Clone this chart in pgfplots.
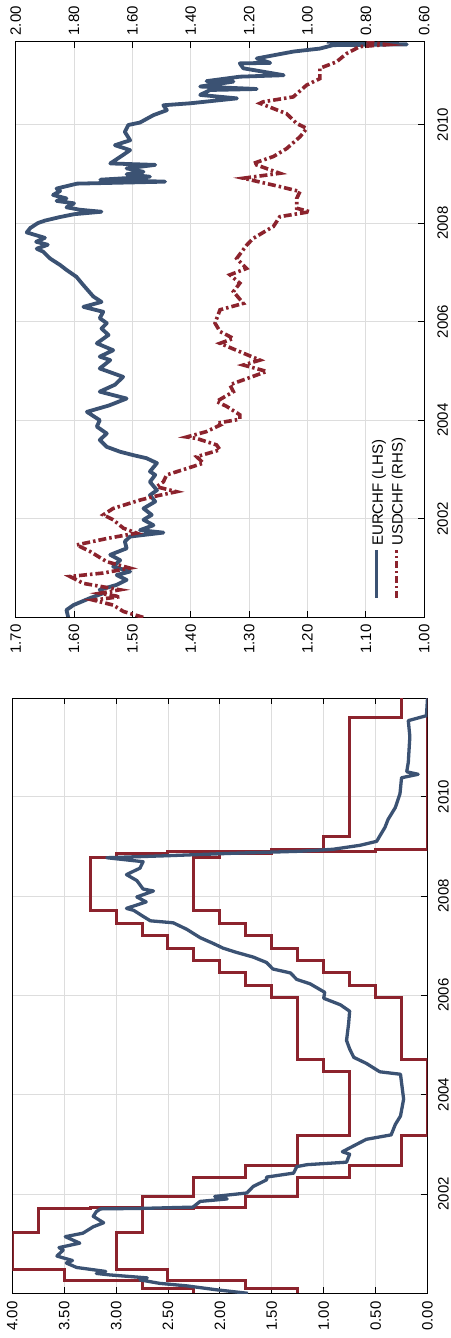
\documentclass[border=0pt]{standalone}
\usepackage{fontspec}
\setmainfont{Liberation Sans}
\usepackage{pgfplots}
\pgfplotsset{compat=1.18}
\definecolor{cblue}{HTML}{3B5273}
\definecolor{cred}{HTML}{8C232D}
\definecolor{cgrid}{HTML}{DDDDDD}
\pgfplotsset{
  base/.style={
    scale only axis, anchor=south west,
    tick align=inside, major tick length=6pt,
    axis line style={line width=1pt, black},
    every tick/.style={black, line width=0.9pt},
    tick label style={font=\fontsize{15}{18}\selectfont, black},
    /pgf/number format/assume math mode=true,
    major grid style={cgrid, line width=0.9pt},
  },
}
\begin{document}
\fontsize{15}{18}\selectfont
\begin{tikzpicture}
\useasboundingbox (0pt,0pt) rectangle (450pt,1338pt);

% ---------------- top panel, LHS (EURCHF) ----------------
\begin{axis}[base, at={(15.7pt,720.6pt)}, width=408.6pt, height=575.7pt,
  xmin=1, xmax=1.7, x dir=reverse, ymin=2000, ymax=2011.68,
  xtick={1.0,1.1,1.2,1.3,1.4,1.5,1.6,1.7},
  xticklabels={1.00,1.10,1.20,1.30,1.40,1.50,1.60,1.70},
  xtick pos=left, xticklabel pos=left,
  ytick={2002,2004,2006,2008,2010},
  yticklabels={2002,2004,2006,2008,2010},
  ytick pos=right, yticklabel pos=right,
  xticklabel style={rotate=90, anchor=east, inner xsep=7pt},
  yticklabel style={rotate=90, anchor=north, inner ysep=13pt},
  grid=major]
\addplot[cblue, line width=3.8pt, line join=round] coordinates {
(1.610,2000.00) (1.613,2000.15) (1.601,2000.25) (1.573,2000.39) (1.550,2000.49)
(1.556,2000.56) (1.527,2000.66) (1.510,2000.76) (1.527,2000.86) (1.504,2000.93)
(1.533,2001.03) (1.521,2001.16) (1.538,2001.27) (1.510,2001.40) (1.513,2001.54)
(1.504,2001.64) (1.447,2001.72) (1.487,2001.77) (1.464,2001.87) (1.481,2001.98)
(1.467,2002.08) (1.481,2002.21) (1.461,2002.35) (1.470,2002.48) (1.458,2002.58)
(1.470,2002.75) (1.461,2002.89) (1.470,2002.96) (1.458,2003.13) (1.476,2003.23)
(1.498,2003.29) (1.521,2003.36) (1.544,2003.46) (1.556,2003.60) (1.544,2003.73)
(1.561,2003.87) (1.556,2004.00) (1.578,2004.17) (1.540,2004.30) (1.510,2004.44)
(1.556,2004.58) (1.530,2004.72) (1.516,2004.88) (1.556,2005.05) (1.538,2005.22)
(1.556,2005.29) (1.533,2005.42) (1.561,2005.56) (1.541,2005.73) (1.553,2005.86)
(1.544,2005.97) (1.556,2006.07) (1.550,2006.20) (1.584,2006.30) (1.553,2006.40)
(1.567,2006.51) (1.584,2006.74) (1.596,2006.91) (1.613,2007.05) (1.624,2007.15)
(1.641,2007.28) (1.653,2007.42) (1.664,2007.48) (1.645,2007.56) (1.665,2007.62)
(1.650,2007.70) (1.681,2007.81) (1.675,2007.90) (1.662,2008.00) (1.650,2008.05)
(1.625,2008.12) (1.600,2008.18) (1.553,2008.23) (1.590,2008.27) (1.613,2008.32)
(1.600,2008.40) (1.630,2008.45) (1.613,2008.50) (1.636,2008.57) (1.624,2008.65)
(1.630,2008.70) (1.595,2008.80) (1.444,2008.84) (1.555,2008.88) (1.470,2008.94)
(1.510,2008.99) (1.481,2009.04) (1.510,2009.11) (1.461,2009.18) (1.538,2009.21)
(1.520,2009.35) (1.504,2009.48) (1.530,2009.58) (1.504,2009.68) (1.513,2009.85)
(1.507,2009.99) (1.487,2010.04) (1.464,2010.19) (1.441,2010.29) (1.447,2010.39)
(1.401,2010.43) (1.321,2010.53) (1.384,2010.60) (1.367,2010.70) (1.287,2010.72)
(1.384,2010.77) (1.327,2010.87) (1.373,2010.88) (1.316,2010.97) (1.241,2011.00)
(1.310,2011.14) (1.316,2011.24) (1.264,2011.25) (1.287,2011.34) (1.224,2011.48)
(1.179,2011.54) (1.156,2011.61) (1.030,2011.625) (1.127,2011.66) (1.167,2011.68)
};
\end{axis}

% ---------------- top panel, RHS (USDCHF) ----------------
\begin{axis}[base, at={(15.7pt,720.6pt)}, width=408.6pt, height=575.7pt,
  xmin=0.6, xmax=2.0, x dir=reverse, ymin=2000, ymax=2011.68,
  xtick={0.6,0.8,1.0,1.2,1.4,1.6,1.8,2.0},
  xticklabels={0.60,0.80,1.00,1.20,1.40,1.60,1.80,2.00},
  xtick pos=right, xticklabel pos=right, ytick=\empty,
  xticklabel style={rotate=90, anchor=west, inner xsep=6pt}]
\addplot[cred, line width=3.6pt, dash pattern=on 8pt off 3pt on 2.5pt off 3pt] coordinates {
(1.563,2000.00) (1.631,2000.12) (1.666,2000.25) (1.734,2000.35) (1.643,2000.42)
(1.711,2000.49) (1.643,2000.56) (1.768,2000.69) (1.814,2000.83) (1.700,2000.90)
(1.609,2001.00) (1.688,2001.13) (1.746,2001.34) (1.791,2001.47) (1.688,2001.60)
(1.586,2001.71) (1.631,2001.81) (1.666,2001.98) (1.700,2002.08) (1.666,2002.21)
(1.574,2002.38) (1.528,2002.45) (1.449,2002.55) (1.517,2002.65) (1.494,2002.75)
(1.483,2002.89) (1.414,2003.02) (1.357,2003.13) (1.380,2003.26) (1.300,2003.40)
(1.312,2003.50) (1.380,2003.63) (1.414,2003.66) (1.346,2003.77) (1.300,2003.90)
(1.311,2003.94) (1.232,2004.02) (1.232,2004.11) (1.277,2004.28) (1.312,2004.38)
(1.254,2004.58) (1.266,2004.72) (1.140,2004.99) (1.220,2005.12) (1.163,2005.22)
(1.232,2005.39) (1.300,2005.56) (1.254,2005.66) (1.300,2005.80) (1.317,2005.97)
(1.300,2006.24) (1.220,2006.37) (1.254,2006.61) (1.232,2006.78) (1.266,2006.95)
(1.209,2007.08) (1.243,2007.28) (1.209,2007.55) (1.186,2007.69) (1.129,2007.89)
(1.117,2007.93) (1.095,2008.13) (0.992,2008.23) (1.037,2008.30) (1.037,2008.50)
(1.026,2008.64) (1.095,2008.74) (1.220,2008.91) (1.095,2009.01) (1.175,2009.18)
(1.186,2009.21) (1.117,2009.35) (1.072,2009.51) (1.026,2009.75) (1.003,2009.92)
(1.037,2010.02) (1.072,2010.22) (1.163,2010.43) (1.152,2010.46) (1.049,2010.56)
(1.003,2010.80) (0.958,2010.93) (0.958,2011.14) (0.901,2011.27) (0.866,2011.44)
(0.821,2011.58) (0.729,2011.62) (0.798,2011.68)
};
% legend (drawn rotated, as in the reference)
\addplot[cblue, line width=3.2pt, forget plot] coordinates {(0.7633,2000.40) (0.7633,2001.375)};
\addplot[cred, line width=3.2pt, dash pattern=on 7pt off 3pt on 2pt off 3pt, forget plot] coordinates {(0.6948,2000.40) (0.6948,2001.375)};
\node[rotate=90, anchor=west, inner sep=0pt, font=\fontsize{15}{18}\selectfont] at (axis cs:0.7554,2001.45) {EURCHF (LHS)};
\node[rotate=90, anchor=west, inner sep=0pt, font=\fontsize{15}{18}\selectfont] at (axis cs:0.6879,2001.45) {USDCHF (RHS)};
\end{axis}

% ---------------- bottom panel ----------------
\begin{axis}[base, at={(12.3pt,44.7pt)}, width=415.2pt, height=595pt,
  xmin=0, xmax=4, x dir=reverse, ymin=2000, ymax=2011.98,
  xtick={0,0.5,1,1.5,2,2.5,3,3.5,4},
  xticklabels={0.00,0.50,1.00,1.50,2.00,2.50,3.00,3.50,4.00},
  xtick pos=both, xticklabel pos=left,
  ytick={2002,2004,2006,2008,2010},
  yticklabels={2002,2004,2006,2008,2010},
  ytick pos=right, yticklabel pos=right,
  xticklabel style={rotate=90, anchor=east, inner xsep=8pt},
  yticklabel style={rotate=90, anchor=north, inner ysep=10.5pt},
  grid=major]
\addplot[cred, line width=3pt] coordinates {
(2.25,2000.00) (2.25,2000.10) (2.75,2000.10) (2.75,2000.25) (3.5,2000.25)
(3.5,2000.47) (4.0,2000.47) (4.0,2001.23) (3.75,2001.23) (3.75,2001.70)
(3.25,2001.70) (3.25,2001.72) (2.75,2001.72) (2.75,2001.95) (2.25,2001.95)
(2.25,2002.34) (1.75,2002.34) (1.75,2002.57) (1.25,2002.57) (1.25,2003.18)
(0.75,2003.18) (0.75,2004.46) (1.0,2004.46) (1.0,2004.71) (1.25,2004.71)
(1.25,2005.95) (1.5,2005.95) (1.5,2006.20) (1.75,2006.20) (1.75,2006.45)
(2.0,2006.45) (2.0,2006.70) (2.25,2006.70) (2.25,2006.95) (2.5,2006.95)
(2.5,2007.20) (2.75,2007.20) (2.75,2007.45) (3.0,2007.45) (3.0,2007.70)
(3.25,2007.70) (3.25,2008.77) (3.0,2008.77) (3.0,2008.85) (2.5,2008.85)
(2.5,2008.89) (1.5,2008.89) (1.5,2008.94) (1.0,2008.94) (1.0,2009.19)
(0.75,2009.19) (0.75,2011.59) (0.25,2011.59) (0.25,2012.0)
};
\addplot[cred, line width=3pt] coordinates {
(1.25,2000.00) (1.25,2000.10) (1.75,2000.10) (1.75,2000.25) (2.5,2000.25)
(2.5,2000.47) (3.0,2000.47) (3.0,2001.23) (2.75,2001.23) (2.75,2001.70)
(2.25,2001.70) (2.25,2001.72) (1.75,2001.72) (1.75,2001.95) (1.25,2001.95)
(1.25,2002.34) (0.75,2002.34) (0.75,2002.57) (0.25,2002.57) (0.25,2003.18)
(0.0,2003.18) (0.0,2004.71) (0.25,2004.71)
(0.25,2005.95) (0.5,2005.95) (0.5,2006.20) (0.75,2006.20) (0.75,2006.45)
(1.0,2006.45) (1.0,2006.70) (1.25,2006.70) (1.25,2006.95) (1.5,2006.95)
(1.5,2007.20) (1.75,2007.20) (1.75,2007.45) (2.0,2007.45) (2.0,2007.70)
(2.25,2007.70) (2.25,2008.77) (2.0,2008.77) (2.0,2008.85) (1.5,2008.85)
(1.5,2008.89) (0.5,2008.89) (0.5,2008.94) (0.0,2008.94) (0.0,2012.0)
};
\addplot[cblue, line width=3.3pt, line join=round] coordinates {
(1.73,2000.00) (2.03,2000.07) (2.32,2000.15) (2.58,2000.20) (2.77,2000.27)
(2.70,2000.31) (3.06,2000.37) (3.19,2000.40) (3.10,2000.44) (3.38,2000.52)
(3.48,2000.61) (3.42,2000.66) (3.57,2000.75) (3.51,2000.87) (3.55,2000.92)
(3.35,2001.01) (3.49,2001.14) (3.32,2001.21) (3.22,2001.34) (3.12,2001.42)
(3.22,2001.55) (3.19,2001.645) (3.15,2001.70) (2.74,2001.71) (2.26,2001.735)
(2.19,2001.85) (1.93,2001.90) (2.05,2001.95) (1.74,2002.02) (1.68,2002.15)
(1.55,2002.285) (1.55,2002.34) (1.29,2002.42) (1.26,2002.55) (1.16,2002.59)
(0.78,2002.64) (0.75,2002.80) (0.82,2002.85) (0.71,2002.97) (0.59,2003.10)
(0.35,2003.19) (0.31,2003.40) (0.26,2003.57) (0.23,2003.91) (0.25,2004.24)
(0.26,2004.41) (0.46,2004.46) (0.59,2004.63) (0.71,2004.75) (0.75,2004.92)
(0.78,2005.09) (0.76,2005.43) (0.75,2005.68) (0.84,2005.81) (1.00,2005.94)
(0.99,2006.06) (1.13,2006.23) (1.26,2006.32) (1.32,2006.45) (1.49,2006.53)
(1.55,2006.66) (1.68,2006.77) (1.85,2006.87) (1.97,2006.95) (2.06,2007.04)
(2.19,2007.16) (2.32,2007.33) (2.45,2007.46) (2.67,2007.50) (2.74,2007.59)
(2.83,2007.71) (2.90,2007.75) (2.71,2007.88) (2.80,2007.98) (2.64,2008.10)
(2.74,2008.14) (2.80,2008.31) (2.90,2008.43) (2.77,2008.56) (2.74,2008.69)
(3.09,2008.77) (2.51,2008.81) (1.87,2008.86) (1.23,2008.90) (0.91,2008.94)
(0.65,2009.02) (0.49,2009.10) (0.41,2009.38) (0.38,2009.54) (0.31,2009.78)
(0.265,2010.06) (0.25,2010.38) (0.09,2010.45) (0.20,2010.50) (0.185,2010.69)
(0.17,2011.21) (0.185,2011.53) (0.01,2011.63) (0.0,2011.98)
};
\end{axis}
\end{tikzpicture}
\end{document}
